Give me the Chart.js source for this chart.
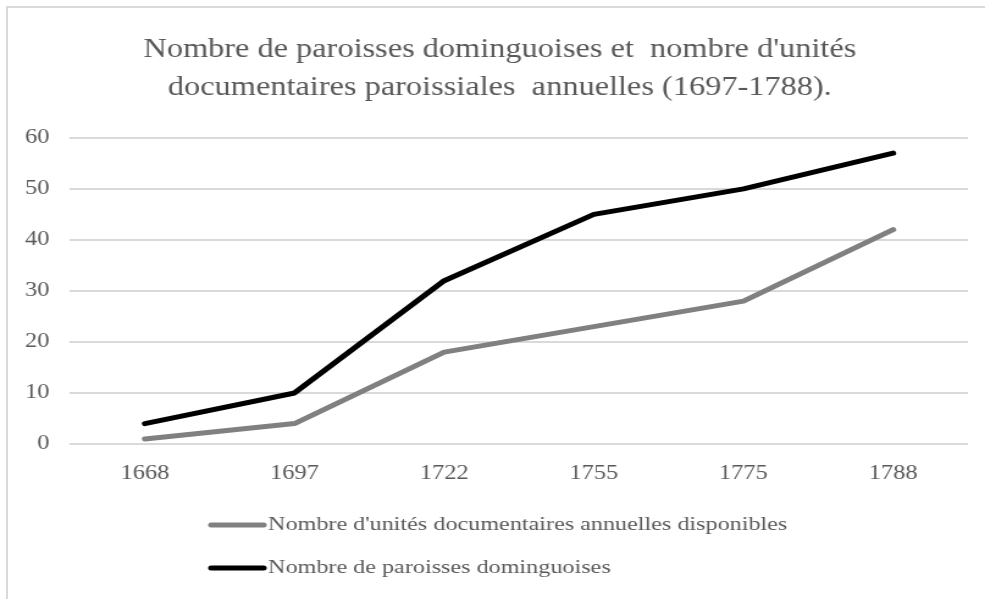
<!DOCTYPE html>
<html>
<head>
<meta charset="utf-8">
<script src="https://cdn.jsdelivr.net/npm/chart.js@4/dist/chart.umd.min.js"></script>
<style>
  html, body { margin: 0; padding: 0; background: #fff; }
  #wrap { position: relative; width: 985px; height: 599px; overflow: hidden; }
  #frame { position: absolute; left: 6px; top: 6px; width: 1100px; height: 700px; border: 2px solid #d9d9d9; box-sizing: border-box; pointer-events: none; }
  #stretch { position: absolute; left: 0; top: 0; width: 807px; height: 599px; transform: scaleX(1.2206); transform-origin: 0 0; }
  canvas { display: block; }
</style>
</head>
<body>
<div id="wrap">
  <div id="stretch"><canvas id="c" width="807" height="599"></canvas></div>
  <div id="frame"></div>
</div>
<script>
const titleLines = ["Nombre de paroisses dominguoises et  nombre d'unités", "documentaires paroissiales  annuelles (1697-1788)."];
const years = ["1668", "1697", "1722", "1755", "1775", "1788"];
const unitesDocumentaires = [1, 4, 18, 23, 28, 42];
const paroisses = [4, 10, 32, 45, 50, 57];
const seriesNames = ["Nombre d'unités documentaires annuelles disponibles", "Nombre de paroisses dominguoises"];
const yTicks = { min: 0, max: 60, step: 10 };

const SERIF = "'Liberation Serif', 'Times New Roman', serif";
const TXT = '#595959';

const noLabelClip = {
  id: 'noLabelClip',
  afterLayout(chart) {
    const y = chart.scales.y;
    if (y) y._computeLabelArea = () => undefined;
  }
};

const legendPlugin = {
  id: 'customLegend',
  afterDraw(chart) {
    const ctx = chart.ctx;
    ctx.save();
    chart.data.datasets.forEach((ds, i) => {
      const y = 525 + 43 * i;
      ctx.strokeStyle = ds.borderColor;
      ctx.lineWidth = 5;
      ctx.lineCap = 'round';
      ctx.beginPath();
      ctx.moveTo(173, y);
      ctx.lineTo(216, y);
      ctx.stroke();
      ctx.fillStyle = TXT;
      ctx.font = '19.8px ' + SERIF;
      ctx.textBaseline = 'middle';
      ctx.textAlign = 'left';
      ctx.fillText(ds.label, 219.6, y);
    });
    ctx.restore();
  }
};

new Chart(document.getElementById('c'), {
  type: 'line',
  data: {
    labels: years,
    datasets: [
      { label: seriesNames[0], data: unitesDocumentaires, borderColor: '#808080', backgroundColor: '#808080', borderWidth: 5, pointRadius: 0, tension: 0, borderCapStyle: 'round', borderJoinStyle: 'round' },
      { label: seriesNames[1], data: paroisses, borderColor: '#000000', backgroundColor: '#000000', borderWidth: 5, pointRadius: 0, tension: 0, borderCapStyle: 'round', borderJoinStyle: 'round' }
    ]
  },
  options: {
    responsive: false,
    animation: false,
    events: [],
    layout: { padding: { left: 26, right: 14, top: 31, bottom: 95 } },
    plugins: {
      legend: { display: false },
      tooltip: { enabled: false },
      title: {
        display: true,
        text: titleLines,
        color: TXT,
        font: { family: SERIF, size: 26.5, weight: 'normal', lineHeight: 1.43 },
        padding: { top: 0, bottom: 31 }
      }
    },
    scales: {
      x: {
        offset: true,
        grid: { display: false, drawTicks: false },
        border: { display: false },
        ticks: { color: TXT, font: { family: SERIF, size: 20 }, padding: 18 }
      },
      y: {
        min: yTicks.min, max: yTicks.max,
        afterFit(s) { s.width = 31.4; },
        grid: { color: '#d9d9d9', lineWidth: 2, drawTicks: false },
        border: { display: false },
        ticks: { stepSize: yTicks.step, color: TXT, font: { family: SERIF, size: 20 }, padding: 17 }
      }
    }
  },
  plugins: [noLabelClip, legendPlugin]
});
</script>
</body>
</html>
